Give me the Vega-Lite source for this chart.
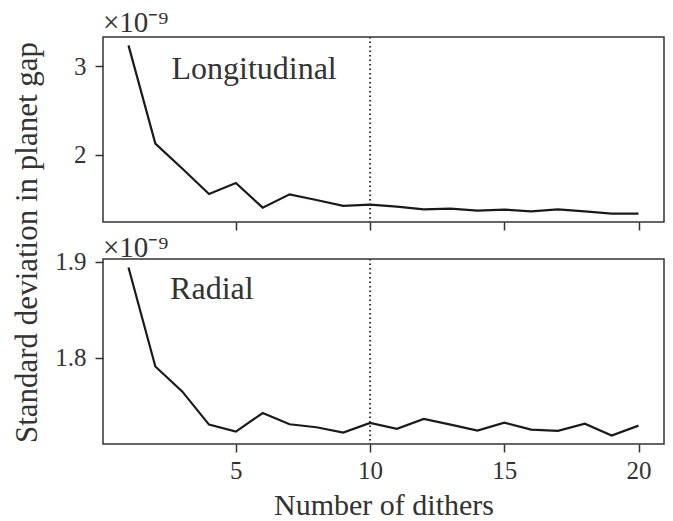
{
  "$schema": "https://vega.github.io/schema/vega-lite/v6.json",
  "background": "white",
  "padding": {"left": 10, "top": 8, "right": 10, "bottom": 1},
  "bounds": "flush",
  "spacing": 37,
  "config": {
    "font": "Liberation Serif",
    "view": {"stroke": "#333333", "strokeWidth": 1.5},
    "axis": {
      "grid": false,
      "domain": false,
      "tickColor": "#333333",
      "tickWidth": 1.5,
      "tickSize": 8,
      "labelFont": "Liberation Serif",
      "labelFontSize": 25,
      "labelColor": "#333333",
      "labelPadding": 9,
      "titleFont": "Liberation Serif",
      "titleFontSize": 31,
      "titleFontWeight": "normal",
      "titleColor": "#333333"
    },
    "title": {
      "font": "Liberation Serif",
      "fontSize": 29,
      "fontWeight": "normal",
      "color": "#333333",
      "anchor": "start",
      "frame": "group",
      "baseline": "alphabetic",
      "offset": 4
    }
  },
  "datasets": {
    "longitudinal": [
      {"dithers": 1, "sd_e9": 3.236},
      {"dithers": 2, "sd_e9": 2.127},
      {"dithers": 3, "sd_e9": 1.846},
      {"dithers": 4, "sd_e9": 1.558},
      {"dithers": 5, "sd_e9": 1.682},
      {"dithers": 6, "sd_e9": 1.404},
      {"dithers": 7, "sd_e9": 1.554},
      {"dithers": 8, "sd_e9": 1.49},
      {"dithers": 9, "sd_e9": 1.424},
      {"dithers": 10, "sd_e9": 1.438},
      {"dithers": 11, "sd_e9": 1.416},
      {"dithers": 12, "sd_e9": 1.385},
      {"dithers": 13, "sd_e9": 1.393},
      {"dithers": 14, "sd_e9": 1.371},
      {"dithers": 15, "sd_e9": 1.382},
      {"dithers": 16, "sd_e9": 1.363},
      {"dithers": 17, "sd_e9": 1.385},
      {"dithers": 18, "sd_e9": 1.363},
      {"dithers": 19, "sd_e9": 1.337},
      {"dithers": 20, "sd_e9": 1.337}
    ],
    "radial": [
      {"dithers": 1, "sd_e9": 1.8942},
      {"dithers": 2, "sd_e9": 1.7906},
      {"dithers": 3, "sd_e9": 1.7646},
      {"dithers": 4, "sd_e9": 1.7299},
      {"dithers": 5, "sd_e9": 1.7226},
      {"dithers": 6, "sd_e9": 1.742},
      {"dithers": 7, "sd_e9": 1.7302},
      {"dithers": 8, "sd_e9": 1.7271},
      {"dithers": 9, "sd_e9": 1.7216},
      {"dithers": 10, "sd_e9": 1.7316},
      {"dithers": 11, "sd_e9": 1.7254},
      {"dithers": 12, "sd_e9": 1.7358},
      {"dithers": 13, "sd_e9": 1.7299},
      {"dithers": 14, "sd_e9": 1.7236},
      {"dithers": 15, "sd_e9": 1.7319},
      {"dithers": 16, "sd_e9": 1.7247},
      {"dithers": 17, "sd_e9": 1.7233},
      {"dithers": 18, "sd_e9": 1.7309},
      {"dithers": 19, "sd_e9": 1.7184},
      {"dithers": 20, "sd_e9": 1.7288}
    ],
    "marker": [{"dithers": 10}],
    "panel_labels_lon": [{"dithers": 2.6, "sd_e9": 2.966, "label": "Longitudinal"}],
    "panel_labels_rad": [{"dithers": 2.55, "sd_e9": 1.8716, "label": "Radial"}]
  },
  "vconcat": [
    {
      "width": 561,
      "height": 185,
      "title": {"text": "×10⁻⁹", "dy": 6},
      "layer": [
        {
          "data": {"name": "longitudinal"},
          "mark": {"type": "line", "color": "#1a1a1a", "strokeWidth": 2.2},
          "encoding": {
            "x": {
              "field": "dithers", "type": "quantitative",
              "scale": {"domain": [0.05, 20.95], "nice": false, "zero": false},
              "axis": {"values": [5, 10, 15, 20], "labels": false, "title": null}
            },
            "y": {
              "field": "sd_e9", "type": "quantitative",
              "scale": {"domain": [1.242, 3.331], "nice": false, "zero": false},
              "axis": {
                "values": [2, 3], "format": "d",
                "title": "Standard deviation in planet gap",
                "titleX": -67, "titleY": 205, "titleAngle": -90,
                "titleAlign": "center", "titleBaseline": "alphabetic"
              }
            }
          }
        },
        {
          "data": {"name": "marker"},
          "mark": {"type": "rule", "color": "#333333", "strokeWidth": 2, "strokeDash": [1.5, 3]},
          "encoding": {"x": {"field": "dithers", "type": "quantitative"}}
        },
        {
          "data": {"name": "panel_labels_lon"},
          "mark": {"type": "text", "align": "left", "baseline": "middle", "fontSize": 32, "color": "#333333", "font": "Liberation Serif"},
          "encoding": {
            "x": {"field": "dithers", "type": "quantitative"},
            "y": {"field": "sd_e9", "type": "quantitative"},
            "text": {"field": "label"}
          }
        }
      ]
    },
    {
      "width": 561,
      "height": 185,
      "title": {"text": "×10⁻⁹", "dy": 17},
      "layer": [
        {
          "data": {"name": "radial"},
          "mark": {"type": "line", "color": "#1a1a1a", "strokeWidth": 2.2},
          "encoding": {
            "x": {
              "field": "dithers", "type": "quantitative",
              "scale": {"domain": [0.05, 20.95], "nice": false, "zero": false},
              "axis": {"values": [5, 10, 15, 20], "format": "d", "title": "Number of dithers", "labelPadding": 6, "titlePadding": 7, "titleFontSize": 30}
            },
            "y": {
              "field": "sd_e9", "type": "quantitative",
              "scale": {"domain": [1.7096, 1.903], "nice": false, "zero": false},
              "axis": {"values": [1.8, 1.9], "format": ".1f", "title": null}
            }
          }
        },
        {
          "data": {"name": "marker"},
          "mark": {"type": "rule", "color": "#333333", "strokeWidth": 2, "strokeDash": [1.5, 3]},
          "encoding": {"x": {"field": "dithers", "type": "quantitative"}}
        },
        {
          "data": {"name": "panel_labels_rad"},
          "mark": {"type": "text", "align": "left", "baseline": "middle", "fontSize": 32, "color": "#333333", "font": "Liberation Serif"},
          "encoding": {
            "x": {"field": "dithers", "type": "quantitative"},
            "y": {"field": "sd_e9", "type": "quantitative"},
            "text": {"field": "label"}
          }
        }
      ]
    }
  ]
}
